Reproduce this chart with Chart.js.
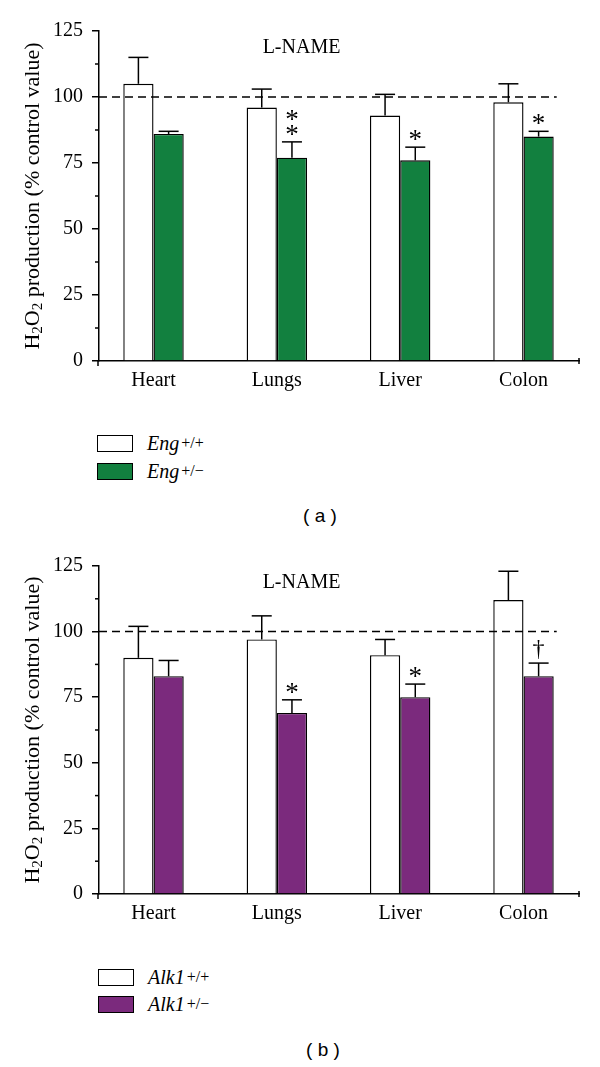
<!DOCTYPE html>
<html>
<head>
<meta charset="utf-8">
<script src="https://cdn.jsdelivr.net/npm/chart.js@4.4.1/dist/chart.umd.min.js"></script>
<style>
  body { margin: 0; background: #fff; width: 600px; height: 1067px; position: relative; overflow: hidden; font-family: 'Liberation Serif', serif; }
  canvas { position: absolute; left: 0; }
  .leg { position: absolute; left: 97px; height: 18px; display: flex; align-items: center; font-size: 20px; color: #000; }
  .box { width: 34px; height: 15px; border: 1.5px solid #000; margin-right: 14px; }
  .leg sup { font-size: 16px; font-style: normal; vertical-align: 8px; line-height: 0; margin-left: 2px; }
  .cap { position: absolute; width: 600px; left: 0; text-align: center; font-family: 'Liberation Sans', sans-serif; font-size: 19px; }
</style>
</head>
<body>
<canvas id="chartA" width="600" height="400" style="top:0"></canvas>
<canvas id="chartB" width="600" height="400" style="top:530px"></canvas>

<div class="leg" style="top:434px"><span class="box" style="background:#fff"></span><i>Eng</i><sup>+/+</sup></div>
<div class="leg" style="top:462px"><span class="box" style="background:#12803f"></span><i>Eng</i><sup>+/−</sup></div>
<div class="cap" style="top:505px;left:20px">( a )</div>

<div class="leg" style="top:968px;left:98px"><span class="box" style="background:#fff"></span><i>Alk1</i><sup>+/+</sup></div>
<div class="leg" style="top:995px;left:98px"><span class="box" style="background:#7b2a7d"></span><i>Alk1</i><sup>+/−</sup></div>
<div class="cap" style="top:1039px;left:23px">( b )</div>

<script>
// organs on the x axis
const categories = ['Heart', 'Lungs', 'Liver', 'Colon'];
const yTicks = [0, 25, 50, 75, 100, 125];
const refLevel = 100;

// panel (a): Eng
const engWT = [105, 96, 93, 98];
const engWTErr = [10, 7, 8, 7];
const engHet = [86, 77, 76, 85];
const engHetErr = [1, 6, 5, 2];
const engHetMarks = [[], ['*', '*'], ['*'], ['*']];

// panel (b): Alk1
const alkWT = [90, 97, 91, 112];
const alkWTErr = [12, 9, 6, 11];
const alkHet = [83, 69, 75, 83];
const alkHetErr = [6, 5, 5, 5];
const alkHetMarks = [[], ['*'], ['*'], ['†']];

const SERIF = "'Liberation Serif', serif";

function line(ctx, x1, y1, x2, y2) {
  ctx.beginPath(); ctx.moveTo(x1, y1); ctx.lineTo(x2, y2); ctx.stroke();
}

const extras = {
  id: 'extras',
  afterDatasetsDraw(chart, args, o) {
    const ctx = chart.ctx, x = chart.scales.x, y = chart.scales.y, a = chart.chartArea;
    ctx.save();
    ctx.strokeStyle = '#000';
    ctx.fillStyle = '#000';
    ctx.lineWidth = 1.5;

    // short minor ticks on y
    y.ticks.forEach(t => {
      if (t.value % 25) {
        const py = y.getPixelForValue(t.value);
        line(ctx, a.left - 4, py, a.left, py);
      }
    });
    // ends of the x axis
    line(ctx, a.left - 1, a.bottom, a.left - 1, a.bottom + 5);
    line(ctx, a.right, a.bottom - 3, a.right, a.bottom + 3);

    // error bars (upper only)
    o.errors.forEach((err, d) => {
      const meta = chart.getDatasetMeta(d);
      const vals = chart.data.datasets[d].data;
      meta.data.forEach((el, i) => {
        const top = y.getPixelForValue(vals[i].y + err[i]);
        line(ctx, el.x, el.y, el.x, top);
        line(ctx, el.x - 10, top, el.x + 10, top);
      });
    });

    // significance marks over the second series
    const meta1 = chart.getDatasetMeta(1);
    const vals1 = chart.data.datasets[1].data;
    ctx.textAlign = 'center';
    ctx.textBaseline = 'alphabetic';
    o.marks.forEach((m, i) => {
      const el = meta1.data[i];
      const top = y.getPixelForValue(vals1[i].y + o.errors[1][i]);
      m.forEach((s, j) => {
        const cy = top - 13 - j * 15;
        if (s === '*') {
          ctx.font = '27px ' + SERIF;
          ctx.fillText(s, el.x, cy + 14);
        } else {
          ctx.font = '24px ' + SERIF;
          ctx.fillText(s, el.x, cy + 6);
        }
      });
    });

    // dashed control line
    const last = meta1.data[categories.length - 1];
    const py = y.getPixelForValue(refLevel);
    ctx.setLineDash([8, 5]);
    line(ctx, a.left, py, last.x + last.width / 2 + 3, py);
    ctx.setLineDash([]);

    // panel title
    ctx.font = '20px ' + SERIF;
    ctx.textBaseline = 'middle';
    ctx.fillText('L-NAME', x.getPixelForValue(2.2), y.getPixelForValue(118.5));

    // y axis title with subscripts
    const parts = [['H', 0], ['2', 1], ['O', 0], ['2', 1], [' production (% control value)', 0]];
    const big = '22px ' + SERIF, small = '15px ' + SERIF;
    let total = 0;
    parts.forEach(p => { ctx.font = p[1] ? small : big; total += ctx.measureText(p[0]).width; });
    ctx.translate(a.left - 66, (a.top + a.bottom) / 2);
    ctx.rotate(-Math.PI / 2);
    ctx.textAlign = 'left';
    ctx.textBaseline = 'middle';
    let cx = -total / 2;
    parts.forEach(p => {
      ctx.font = p[1] ? small : big;
      ctx.fillText(p[0], cx, p[1] ? 5 : 0);
      cx += ctx.measureText(p[0]).width;
    });
    ctx.restore();
  }
};

function makeChart(id, wt, wtErr, het, hetErr, marks, color, padTop, xH) {
  const pts = arr => arr.map((v, i) => ({ x: i + 1, y: v }));
  return new Chart(document.getElementById(id), {
    type: 'bar',
    data: {
      datasets: [
        { data: pts(wt), backgroundColor: '#ffffff', borderColor: '#000', borderWidth: 1.4 },
        { data: pts(het), backgroundColor: color, borderColor: '#000', borderWidth: 1.4 }
      ]
    },
    options: {
      responsive: false,
      animation: false,
      layout: { padding: { top: padTop, right: 21, left: 0, bottom: 0 } },
      categoryPercentage: 0.49,
      barPercentage: 1,
      plugins: {
        legend: { display: false },
        tooltip: { enabled: false },
        extras: { errors: [wtErr, hetErr], marks: marks }
      },
      scales: {
        x: {
          type: 'linear',
          offset: false,
          min: 0.558,
          max: 4.45,
          grid: { display: false, drawTicks: false, offset: false },
          border: { display: true, color: '#000', width: 1.5 },
          afterBuildTicks: s => { s.ticks = categories.map((c, i) => ({ value: i + 1 })); },
          afterFit: s => { s.height = xH; },
          ticks: {
            autoSkip: false, maxRotation: 0, padding: 8, color: '#000',
            font: { family: SERIF, size: 20 },
            callback: v => categories[v - 1]
          }
        },
        y: {
          min: yTicks[0],
          max: yTicks[yTicks.length - 1],
          afterFit: s => { s.width = 99; },
          grid: {
            display: true, drawOnChartArea: false, drawTicks: true, tickLength: 7, lineWidth: 1.5,
            tickColor: c => (c.tick && c.tick.value % 25 === 0) ? '#000' : 'rgba(0,0,0,0)'
          },
          border: { display: true, color: '#000', width: 1.5 },
          ticks: {
            stepSize: 12.5, padding: 9, color: '#000',
            font: { family: SERIF, size: 20 },
            callback: v => yTicks.includes(v) ? String(v) : ''
          }
        }
      }
    },
    plugins: [extras]
  });
}

makeChart('chartA', engWT, engWTErr, engHet, engHetErr, engHetMarks, '#12803f', 31, 39);
makeChart('chartB', alkWT, alkWTErr, alkHet, alkHetErr, alkHetMarks, '#7b2a7d', 36, 36);
</script>
</body>
</html>
